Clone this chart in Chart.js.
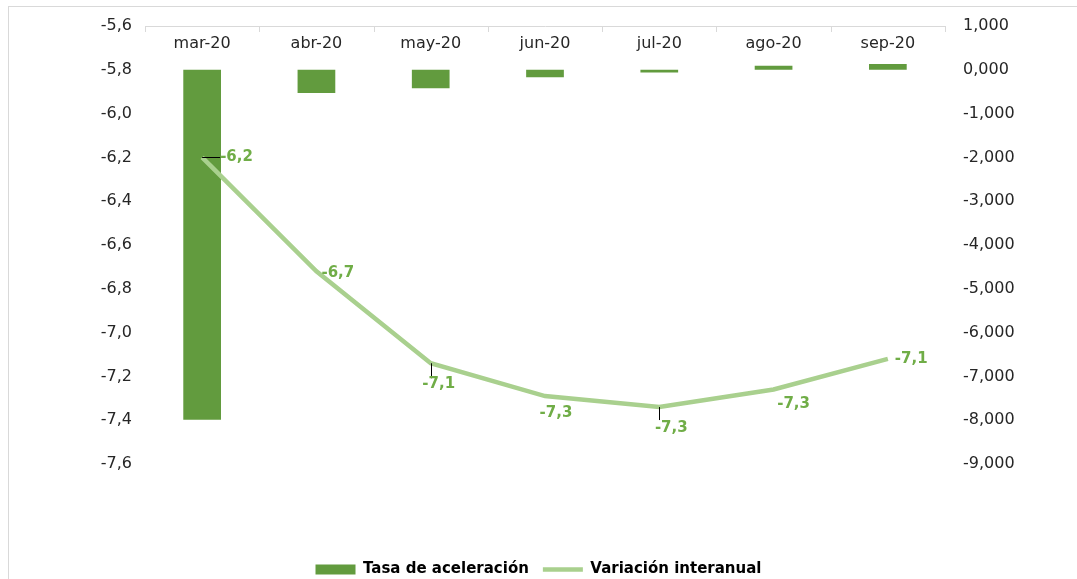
<!DOCTYPE html>
<html><head><meta charset="utf-8">
<script src="https://cdn.jsdelivr.net/npm/chart.js@4.4.1/dist/chart.umd.min.js"></script>
<style>
html,body{margin:0;padding:0;background:#fff;}
#wrap{position:relative;width:1077px;height:579px;overflow:hidden;}
#frame{position:absolute;left:8px;top:6px;width:1200px;height:700px;border-left:1px solid #d9d9d9;border-top:1px solid #d9d9d9;pointer-events:none}
canvas{position:absolute;left:0;top:0}
</style></head><body>
<div id="wrap"><canvas id="c" width="1077" height="579"></canvas><div id="frame"></div></div>
<script>
// ---- data ----
const categories = ['mar-20','abr-20','may-20','jun-20','jul-20','ago-20','sep-20'];
const tasaAceleracion = [-7.99, -0.53, -0.42, -0.17, -0.06, 0.09, 0.13];   // right axis (shown as "0,000")
const variacionInteranual = [-6.20, -6.72, -7.14, -7.29, -7.34, -7.26, -7.12]; // left axis
const leftAxisMin = -7.6, leftAxisMax = -5.6, leftAxisStep = 0.2;
const rightAxisMin = -9, rightAxisMax = 1, rightAxisStep = 1;
const seriesNames = ['Tasa de aceleración', 'Variación interanual'];

// ---- style for data labels (offsets from point, in px) ----
const labelPlacement = [
  {dx:18, dy:0,  align:'left',   leader:'h'},
  {dx:5,  dy:2,  align:'left'},
  {dx:8,  dy:21, align:'center', leader:'v', leaderLen:15},
  {dx:11, dy:17, align:'center'},
  {dx:12, dy:21, align:'center', leader:'v', leaderLen:13},
  {dx:20, dy:15, align:'center'},
  {dx:7,  dy:0,  align:'left'}
];

const FONT = 'DejaVu Sans';
const BAR_COLOR = '#629b3e';
const LINE_COLOR = '#a9d08e';
const LABEL_COLOR = '#70ad47';

const catAxis = {
  id: 'catAxis',
  afterDraw(chart) {
    const xs = chart.scales.x, ctx = chart.ctx;
    const n = categories.length;
    const step = xs.getPixelForValue(1) - xs.getPixelForValue(0);
    ctx.save();
    ctx.strokeStyle = '#d9d9d9'; ctx.lineWidth = 1;
    for (let i = 0; i <= n; i++) {
      const x = Math.round(xs.getPixelForValue(0) - step/2 + i*step) + 0.5;
      ctx.beginPath(); ctx.moveTo(x, xs.bottom); ctx.lineTo(x, xs.bottom + 6); ctx.stroke();
    }
    ctx.fillStyle = '#262626';
    ctx.font = '16px "' + FONT + '"';
    ctx.textAlign = 'center'; ctx.textBaseline = 'middle';
    categories.forEach((c, i) => {
      ctx.fillText(c, xs.getPixelForValue(i), xs.bottom + 18);
    });
    ctx.restore();
  }
};

const dataLabels = {
  id: 'dataLabels',
  afterDatasetsDraw(chart) {
    const meta = chart.getDatasetMeta(1);
    const ctx = chart.ctx;
    ctx.save();
    ctx.font = 'bold 15px "' + FONT + '"';
    ctx.textBaseline = 'middle';
    meta.data.forEach((pt, i) => {
      const p = labelPlacement[i];
      const txt = variacionInteranual[i].toFixed(1).replace('.', ',');
      if (p.leader === 'h') {
        ctx.strokeStyle = '#000'; ctx.lineWidth = 1;
        ctx.beginPath(); ctx.moveTo(pt.x, Math.round(pt.y)+0.5); ctx.lineTo(pt.x + p.dx, Math.round(pt.y)+0.5); ctx.stroke();
      } else if (p.leader === 'v') {
        ctx.strokeStyle = '#000'; ctx.lineWidth = 1;
        ctx.beginPath(); ctx.moveTo(Math.round(pt.x)+0.5, pt.y); ctx.lineTo(Math.round(pt.x)+0.5, pt.y + p.leaderLen); ctx.stroke();
      }
      ctx.fillStyle = LABEL_COLOR;
      ctx.textAlign = p.align;
      ctx.fillText(txt, pt.x + p.dx, pt.y + p.dy);
    });
    ctx.restore();
  }
};

new Chart(document.getElementById('c'), {
  data: {
    labels: categories,
    datasets: [
      {
        type: 'bar', label: seriesNames[0], data: tasaAceleracion, yAxisID: 'y1',
        backgroundColor: BAR_COLOR, borderWidth: 0, order: 2,
        barPercentage: 0.33, categoryPercentage: 1.0, pointStyle: 'rect'
      },
      {
        type: 'line', label: seriesNames[1], data: variacionInteranual, yAxisID: 'y',
        borderColor: LINE_COLOR, backgroundColor: LINE_COLOR, borderWidth: 4.5,
        pointRadius: 0, tension: 0, order: 1, pointStyle: 'line'
      }
    ]
  },
  options: {
    responsive: false, animation: false,
    layout: { padding: { left: 0, right: 0, top: 0, bottom: -8 } },
    plugins: {
      tooltip: { enabled: false },
      legend: {
        position: 'bottom',
        labels: {
          usePointStyle: true, pointStyleWidth: 40, boxHeight: 10, padding: 14,
          color: '#000', font: { family: FONT, size: 15, weight: 'bold' },
          sort: (a, b) => a.datasetIndex - b.datasetIndex
        }
      }
    },
    scales: {
      x: {
        type: 'category', position: 'top', offset: true,
        grid: { display: false },
        border: { display: true, color: '#d9d9d9', width: 1 },
        ticks: { display: false },
        afterFit: s => { s.height = 26; }
      },
      xPad: {
        type: 'category', position: 'bottom', labels: categories,
        grid: { display: false }, border: { display: false }, ticks: { display: false },
        afterFit: s => { s.height = 84; }
      },
      y: {
        position: 'left', min: leftAxisMin, max: leftAxisMax,
        grid: { display: false }, border: { display: false },
        ticks: { stepSize: leftAxisStep, padding: 5, color: '#262626', font: { family: FONT, size: 16 },
          callback: v => Number(v).toFixed(1).replace('.', ',') },
        afterFit: s => { s.width = 145; }
      },
      y1: {
        position: 'right', min: rightAxisMin, max: rightAxisMax,
        grid: { display: false }, border: { display: false },
        ticks: { stepSize: rightAxisStep, padding: 10, color: '#262626', font: { family: FONT, size: 16 },
          callback: v => Number(v).toFixed(3).replace('.', ',') },
        afterFit: s => { s.width = 132; }
      }
    }
  },
  plugins: [catAxis, dataLabels]
});
</script>
</body></html>
